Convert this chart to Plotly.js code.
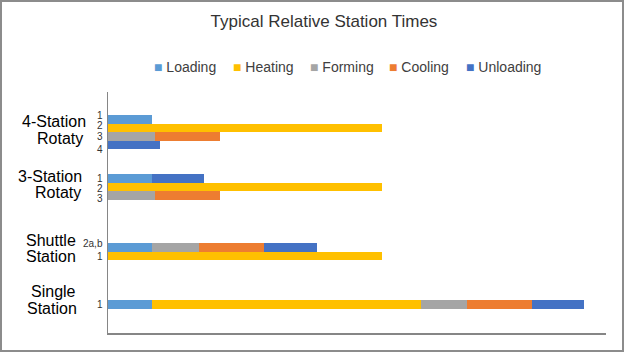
<!DOCTYPE html>
<html><head><meta charset="utf-8">
<script src="https://cdn.plot.ly/plotly-3.0.1.min.js"></script>
<style>html,body{margin:0;padding:0;background:#fff}#chart{width:624px;height:352px}</style>
</head><body><div id="chart"></div>
<script>
// ---------------- data ----------------
const groups = ["4-Station Rotaty", "3-Station Rotaty", "Shuttle Station", "Single Station"];
const rowLabels = [["1", "2", "3", "4"], ["1", "2", "3"], ["2a,b", "1"], ["1"]];
const seriesNames = ["Loading", "Heating", "Forming", "Cooling", "Unloading"];
// one value per row, top to bottom:
// 4-Station 1,2,3,4 | 3-Station 1,2,3 | Shuttle 2a,b, 1 | Single 1
const loading   = [44,   null, null, null, 44,   null, null, 44,   null, 44];
const heating   = [null, 274,  null, null, null, 274,  null, null, 274,  269];
const forming   = [null, null, 47,   null, null, null, 47,   47,   null, 46];
const cooling   = [null, null, 65,   null, null, null, 65,   65,   null, 65];
const unloading = [null, null, null, 52,   52,   null, null, 53,   null, 52];
const seriesValues = [loading, heating, forming, cooling, unloading];
const colors = ["#5B9BD5", "#FFC000", "#A5A5A5", "#ED7D31", "#4472C4"];

// ---------------- layout geometry ----------------
const W = 624, H = 352;
const M = {l: 108, r: 18, t: 92, b: 19};
const plotW = W - M.l - M.r, plotH = H - M.t - M.b;
const slotPx = 8.6;                       // thickness of one bar row
const yMax = plotH / slotPx;
const groupFirstRow = [3.18, 10.03, 18.06, 24.69];   // in row units from top
const px2x = px => (px - M.l) / plotW;
const px2y = py => (H - M.b - py) / plotH;

// row positions
const rowY = [];
groups.forEach((g, gi) => rowLabels[gi].forEach((l, i) => rowY.push(groupFirstRow[gi] + i)));

const traces = seriesNames.map((name, k) => ({
  type: "bar", orientation: "h", name: name,
  x: seriesValues[k], y: rowY, width: 1,
  marker: {color: colors[k], line: {width: 0}},
  showlegend: false, hoverinfo: "skip"
}));

const annotations = [];
// small row labels (pixel centres)
const rowLabelPy = [[115, 125.3, 136.3, 149.5], [178, 188.2, 198.5], [243.3, 256], [304.2]];
rowLabels.forEach((labs, gi) => labs.forEach((t, i) => annotations.push({
  text: t, xref: "paper", yref: "paper", x: px2x(104.5), y: px2y(rowLabelPy[gi][i]),
  xanchor: "right", yanchor: "middle", showarrow: false,
  font: {family: "Liberation Sans, Arial, sans-serif", size: 10, color: "#333333"}
})));
// group labels, one annotation per line
const groupLinePy = [[121.3, 138], [176.5, 192.8], [240, 256.8], [291.8, 308.5]];
const groupLinePx = [[54, 59.5], [49.7, 58], [51.3, 51.3], [53.2, 51.5]];
groups.forEach((g, gi) => g.split(" ").forEach((line, li) => annotations.push({
  text: line, xref: "paper", yref: "paper",
  x: px2x(groupLinePx[gi][li]), y: px2y(groupLinePy[gi][li]),
  xanchor: "center", yanchor: "middle", showarrow: false,
  font: {family: "Liberation Sans, Arial, sans-serif", size: 16, color: "#000000"}
})));
// legend entries
const legendPx = [152, 230.5, 307.5, 387, 464];
seriesNames.forEach((n, k) => annotations.push({
  text: `<span style="color:${colors[k]}">\u25A0</span> ${n}`,
  xref: "paper", yref: "paper", x: px2x(legendPx[k]), y: px2y(67.5),
  xanchor: "left", yanchor: "middle", showarrow: false,
  font: {family: "Liberation Sans, Arial, sans-serif", size: 14, color: "#404040"}
}));

const layout = {
  width: W, height: H,
  margin: M,
  paper_bgcolor: "#ffffff", plot_bgcolor: "#ffffff",
  barmode: "stack", bargap: 0,
  title: {text: "Typical Relative Station Times", xref: "container", yref: "container",
          x: 324 / W, y: 1 - 21 / H, xanchor: "center", yanchor: "middle",
          font: {family: "Liberation Sans, Arial, sans-serif", size: 17, color: "#333333"}},
  xaxis: {range: [0, plotW], showgrid: false, zeroline: false, showticklabels: false,
          ticks: "", showline: true, linecolor: "#868686", linewidth: 1.5, fixedrange: true},
  yaxis: {range: [yMax, 0], showgrid: false, zeroline: false, showticklabels: false,
          ticks: "", showline: true, linecolor: "#868686", linewidth: 1.5, fixedrange: true},
  showlegend: false,
  annotations: annotations,
  shapes: [{type: "rect", xref: "paper", yref: "paper",
            x0: px2x(1), x1: px2x(623), y0: px2y(351), y1: px2y(1),
            line: {color: "#8c8c8c", width: 2}, fillcolor: "rgba(0,0,0,0)", layer: "below"}]
};

Plotly.newPlot("chart", traces, layout, {displayModeBar: false, staticPlot: true});
</script>
</body></html>
